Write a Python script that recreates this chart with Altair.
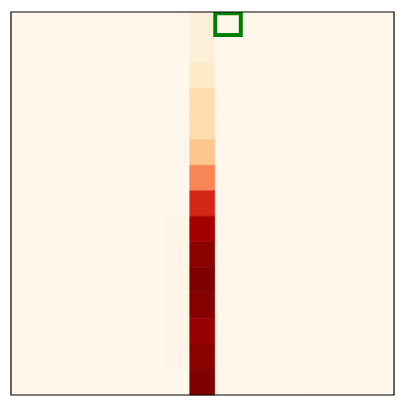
import altair as alt
import pandas as pd

# 15 x 15 grid, only columns 6 and 7 carry non-zero values
n_cols = 15
n_rows = 15
col7_values = [0.07, 0.07, 0.12, 0.2, 0.2, 0.32, 0.525, 0.77, 0.91, 0.97, 1.0, 0.98, 0.945, 0.97, 1.0]
col6_values = [0, 0, 0, 0, 0, 0, 0, 0, 0.025, 0.025, 0.025, 0.025, 0.025, 0.025, 0]
highlight = {"col": 8, "row": 0}

orrd = ["#fff7ec", "#fee8c8", "#fdd49e", "#fdbb84", "#fc8d59",
        "#ef6548", "#d7301f", "#b30000", "#7f0000"]
stops = [i / 8 for i in range(9)]

rows = []
for r in range(n_rows):
    for c in range(n_cols):
        v = 0.0
        if c == 7:
            v = col7_values[r]
        elif c == 6:
            v = col6_values[r]
        rows.append({"x": c - 0.5, "x2": c + 0.5, "y": r - 0.5, "y2": r + 0.5, "v": v})
grid = pd.DataFrame(rows)

xs = alt.Scale(domain=[-0.5, n_cols - 0.5], nice=False, zero=False)
ys = alt.Scale(domain=[n_rows - 0.5, -0.5], nice=False, zero=False)
cs = alt.Scale(domain=stops, range=orrd, interpolate="rgb")

cells = alt.Chart(grid).mark_rect(strokeWidth=0.6).encode(
    x=alt.X("x:Q", scale=xs, axis=None),
    x2="x2",
    y=alt.Y("y:Q", scale=ys, axis=None),
    y2="y2",
    color=alt.Color("v:Q", scale=cs, legend=None),
    stroke=alt.Stroke("v:Q", scale=cs, legend=None),
)

box_df = pd.DataFrame([{
    "x": highlight["col"] - 0.5, "x2": highlight["col"] + 0.5,
    "y": highlight["row"] - 0.45, "y2": highlight["row"] + 0.4,
}])
box = alt.Chart(box_df).mark_rect(fill=None, stroke="#008000", strokeWidth=4, clip=True).encode(
    x=alt.X("x:Q", scale=xs, axis=None),
    x2="x2",
    y=alt.Y("y:Q", scale=ys, axis=None),
    y2="y2",
)

frame_df = pd.DataFrame([{"x": -0.5, "x2": n_cols - 0.5, "y": -0.5, "y2": n_rows - 0.5}])
frame = alt.Chart(frame_df).mark_rect(fill=None, stroke="black", strokeWidth=1.2).encode(
    x=alt.X("x:Q", scale=xs, axis=None),
    x2="x2",
    y=alt.Y("y:Q", scale=ys, axis=None),
    y2="y2",
)

chart = alt.layer(cells, box, frame).properties(
    width=385, height=385, padding=2, background="white"
).configure_view(strokeWidth=0)

chart.save("out.html", embed_options={"renderer": "svg", "actions": False})
